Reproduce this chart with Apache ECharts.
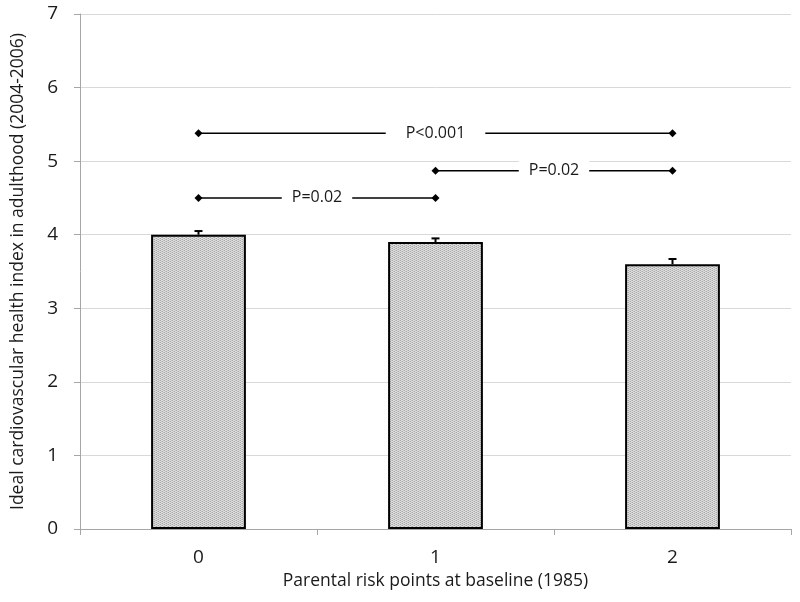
<!DOCTYPE html>
<html><head><meta charset="utf-8">
<script src="https://cdn.jsdelivr.net/npm/echarts@6/dist/echarts.min.js"></script>
<style>html,body{margin:0;padding:0;background:#fff}#c{width:800px;height:602px}</style>
</head><body><div id="c"></div>
<script>
const categories = ['0', '1', '2'];
const values = [4.0, 3.9, 3.6];
const errUpper = [4.05, 3.95, 3.67];
const yTicks = [0, 1, 2, 3, 4, 5, 6, 7];
// brackets: [fromIndex, toIndex, yValue, label]
const bracketFrom = [0, 1, 0];
const bracketTo = [2, 2, 1];
const bracketY = [5.38, 4.87, 4.50];
const bracketLabels = ['P<0.001', 'P=0.02', 'P=0.02'];
const bracketPad = [20, 10, 10];

const FONT = 'Open Sans';
const pc = document.createElement('canvas');
pc.width = 4; pc.height = 2;
const px = pc.getContext('2d');
px.fillStyle = '#dedede'; px.fillRect(0, 0, 4, 2);
px.fillStyle = '#a8a8a8'; px.fillRect(0, 0, 1, 1); px.fillRect(2, 1, 1, 1);
px.fillStyle = '#c4c4c4'; px.fillRect(1, 1, 1, 1); px.fillRect(3, 0, 1, 1);

const chart = echarts.init(document.getElementById('c'));
chart.setOption({
  animation: false,
  grid: { left: 80, right: 9, top: 14, bottom: 73, outerBoundsMode: 'none', containLabel: false },
  xAxis: {
    type: 'category', data: categories,
    name: 'Parental risk points at baseline (1985)', nameLocation: 'middle', nameGap: 42,
    nameTextStyle: { fontFamily: FONT, fontSize: 17.5, color: '#1a1a1a' },
    axisLine: { lineStyle: { color: '#a6a6a6', width: 1 } },
    axisTick: { show: true, alignWithLabel: false, length: 6, lineStyle: { color: '#a6a6a6' } },
    axisLabel: { fontFamily: FONT, fontSize: 19, color: '#1a1a1a', margin: 19 }
  },
  yAxis: {
    type: 'value', min: yTicks[0], max: yTicks[yTicks.length - 1], interval: 1,
    name: 'Ideal cardiovascular health index in adulthood (2004-2006)', nameLocation: 'middle', nameGap: 53,
    nameTextStyle: { fontFamily: FONT, fontSize: 17.5, color: '#1a1a1a' },
    axisLine: { show: true, lineStyle: { color: '#a6a6a6' } },
    axisTick: { show: true, length: 6, lineStyle: { color: '#a6a6a6' } },
    axisLabel: { fontFamily: FONT, fontSize: 19, color: '#1a1a1a', margin: 22 },
    splitLine: { lineStyle: { color: '#d9d9d9' } }
  },
  series: [
    {
      type: 'bar', data: values, barWidth: '40%',
      itemStyle: { color: { image: pc, repeat: 'repeat' }, borderColor: '#000', borderWidth: 2 }
    },
    {
      type: 'custom', z: 5,
      data: values.map((v, i) => [i, v, errUpper[i]]),
      renderItem: (params, api) => {
        const base = api.coord([api.value(0), api.value(1)]);
        const top = api.coord([api.value(0), api.value(2)]);
        return { type: 'group', children: [
          { type: 'line', shape: { x1: base[0], y1: base[1], x2: top[0], y2: top[1] }, style: { stroke: '#000', lineWidth: 2 } },
          { type: 'line', shape: { x1: top[0] - 4, y1: top[1], x2: top[0] + 4, y2: top[1] }, style: { stroke: '#000', lineWidth: 2 } }
        ]};
      }
    },
    {
      type: 'custom', z: 6,
      data: bracketY.map((y, i) => [bracketFrom[i], bracketTo[i], y]),
      renderItem: (params, api) => {
        const i = params.dataIndex;
        const a = api.coord([api.value(0), api.value(2)]);
        const b = api.coord([api.value(1), api.value(2)]);
        const mid = (a[0] + b[0]) / 2;
        const d = 4;
        const diamond = (x, y) => ({ type: 'polygon', shape: { points: [[x - d, y], [x, y - d], [x + d, y], [x, y + d]] }, style: { fill: '#000' } });
        return { type: 'group', children: [
          { type: 'line', shape: { x1: a[0], y1: a[1], x2: b[0], y2: b[1] }, style: { stroke: '#000', lineWidth: 1.5 } },
          diamond(a[0], a[1]), diamond(b[0], b[1]),
          { type: 'text', x: mid, y: a[1], style: { text: bracketLabels[i], fontFamily: FONT, fontSize: 16, fill: '#1a1a1a', align: 'center', verticalAlign: 'middle', backgroundColor: '#fff', padding: [2, bracketPad[i]] } }
        ]};
      }
    }
  ]
});
</script></body></html>
